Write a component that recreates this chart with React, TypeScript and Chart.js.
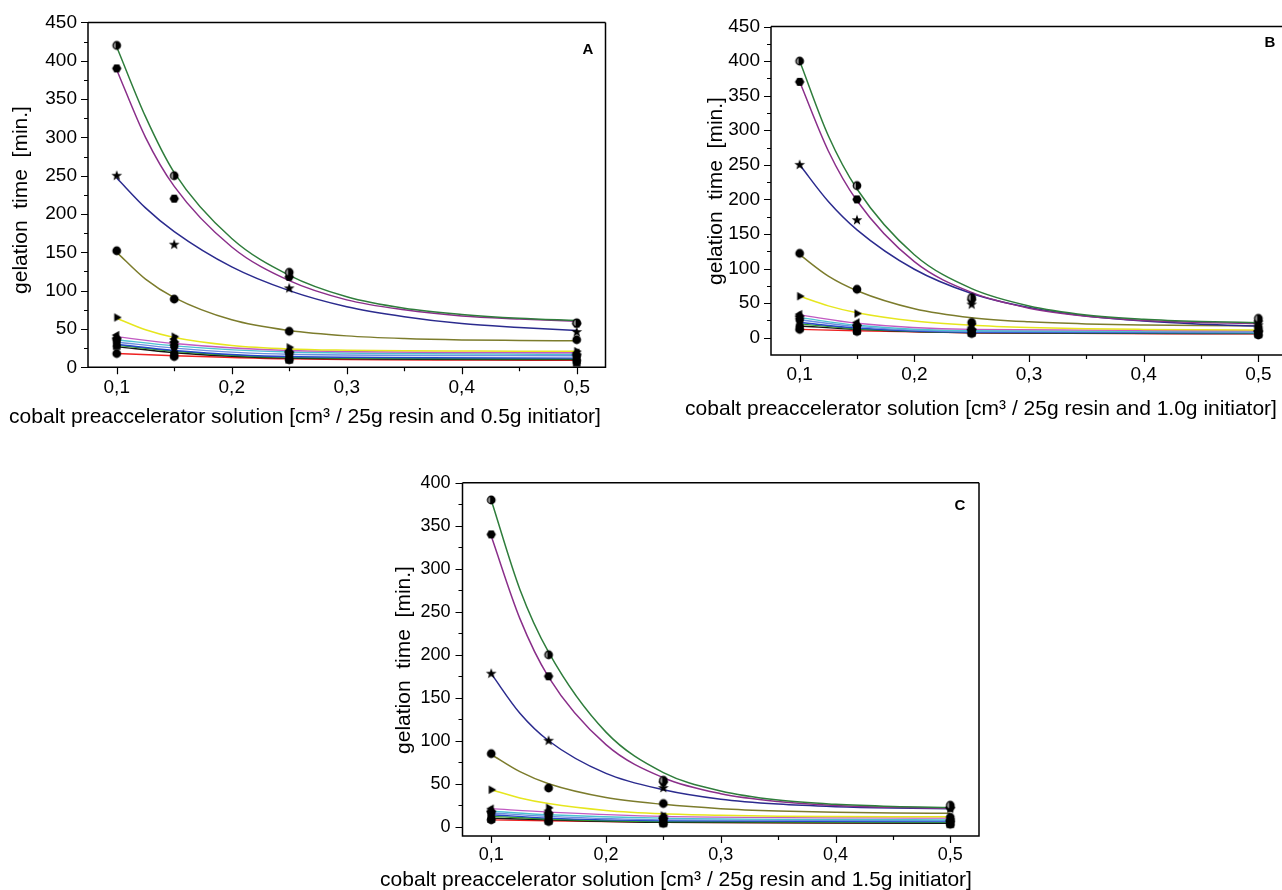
import React, { useEffect, useRef } from 'react';
import { Chart, registerables } from 'chart.js';

Chart.register(...registerables);

// ---------- shared axis data ----------
const X_POINTS = [0.1, 0.15, 0.25, 0.5];
const X_FINE = [0.1, 0.125, 0.15, 0.2, 0.25, 0.3, 0.35, 0.4, 0.45, 0.5];
const X_TICKS = [0.1, 0.2, 0.3, 0.4, 0.5];
const X_TICK_LABELS = ['0,1', '0,2', '0,3', '0,4', '0,5'];
const X_MINOR = [0.15, 0.25, 0.35, 0.45];
const Y_TICKS_AB = [0, 50, 100, 150, 200, 250, 300, 350, 400, 450];
const Y_MINOR_AB = [25, 75, 125, 175, 225, 275, 325, 375, 425];
const Y_TICKS_C = [0, 50, 100, 150, 200, 250, 300, 350, 400];
const Y_MINOR_C = [25, 75, 125, 175, 225, 275, 325, 375];

// series order: darkgreen, purple, navy, olive, yellow, magenta, cyan, royal, blue, green, black, red
const SERIES = ['s1', 's2', 's3', 's4', 's5', 's6', 's7', 's8', 's9', 's10', 's11', 's12'];

// ---------- panel A (0.5 g initiator) ----------
const A_POINTS = [
  [420, 250, 124, 58],
  [390, 220, 118, 57],
  [250, 160, 103, 46],
  [152, 89, 47, 36],
  [65, 40, 26, 21],
  [42, 37, 22, 19],
  [38, 33, 20, 17],
  [35, 28, 17, 14],
  [32, 24, 14, 11],
  [30, 20, 12, 8],
  [28, 17, 10, 6],
  [18, 14, 10, 9],
];
const A_CURVES_TOP = [
  [418, 327, 254, 168, 120, 92, 77, 69, 64, 61],
  [388, 300, 236, 157, 113, 88, 75, 67, 63, 60],
  [247, 208, 177, 131, 100, 79, 66, 57, 52, 48],
  [150, 115, 91, 62, 48, 41, 37.5, 35.7, 35, 34.5],
  [64, 49, 39, 28.6, 24, 22.3, 21.5, 21.2, 21, 21],
];
const A_CURVES_LOW = [
  [40, 31, 22, 19],
  [36, 28, 20, 17],
  [33, 25, 17, 15],
  [30, 22, 14, 12],
  [29, 21, 13, 11],
  [27, 19, 12, 10],
  [18, 15, 11, 9],
];

// ---------- panel B (1.0 g initiator) ----------
const B_POINTS = [
  [400, 220, 58, 28],
  [370, 200, 55, 24],
  [250, 170, 48, 18],
  [122, 70, 22, 15],
  [60, 35, 20, 12],
  [34, 22, 15, 10],
  [31, 18, 12, 9],
  [26, 16, 10, 8],
  [22, 14, 9, 7],
  [19, 11, 8, 6],
  [15, 10, 7, 5],
  [12, 9, 6, 4],
];
const B_CURVES_TOP = [
  [400, 292, 215, 120, 71, 46, 33, 26.8, 23.5, 21.7],
  [370, 270, 198, 110, 65.5, 42.7, 31, 25, 22, 20.6],
  [250, 197, 156, 99, 64, 43.6, 31.4, 24, 19.6, 17],
  [120, 89, 68, 42, 29, 23, 20, 18.5, 17.7, 17.4],
  [60, 46, 36, 24, 18, 14.7, 12.9, 12, 11.5, 11.3],
];
const B_CURVES_LOW = [
  [33, 21, 12, 10],
  [29, 18, 10, 9],
  [26, 16, 9, 8],
  [22, 14, 8, 7],
  [20, 13, 8, 6.5],
  [17, 12, 7, 6],
  [12, 10, 7, 5.5],
];

// ---------- panel C (1.5 g initiator) ----------
const C_POINTS = [
  [380, 200, 54, 25],
  [340, 175, 52, 22],
  [178, 100, 45, 21],
  [85, 45, 27, 11],
  [43, 22, 13, 9],
  [21, 19, 12, 8],
  [18, 16, 10, 6],
  [16, 13, 8, 6],
  [13, 10, 7, 5],
  [11, 8, 5, 4],
  [9, 7, 4, 3],
  [8, 6, 4, 3],
];
const C_CURVES_TOP = [
  [380, 276, 203, 110, 63, 41.6, 31, 26, 23.5, 22.3],
  [338, 242, 174, 95.5, 57, 38.4, 29.3, 24.8, 22.6, 21.6],
  [178, 132, 100, 62, 43, 32, 26.3, 23.3, 21.7, 20.9],
  [84, 64, 50, 34, 26, 21, 18.3, 16.8, 16, 15.6],
  [43, 33.5, 27, 19, 15, 13.2, 12.3, 11.9, 11.7, 11.6],
];
const C_CURVES_LOW = [
  [21, 17, 12, 10],
  [18, 14, 10, 8],
  [16, 12, 8, 7],
  [14, 10, 7, 6],
  [12, 9, 6, 5],
  [10, 8, 5, 4],
  [8, 7, 5, 4],
];

const X_TITLE_A = 'cobalt preaccelerator solution [cm³ / 25g resin and 0.5g initiator]';
const X_TITLE_B = 'cobalt preaccelerator solution [cm³ / 25g resin and 1.0g initiator]';
const X_TITLE_C = 'cobalt preaccelerator solution [cm³ / 25g resin and 1.5g initiator]';
const Y_TITLE = 'gelation  time  [min.]';

// ---------- styles ----------
const COLORS = ['#2f7d3c', '#8a2f8a', '#2b2b8e', '#7c7c2c', '#e6e61e', '#c25ac2', '#4cc2d2', '#6c8de0', '#2646c8', '#2ea02e', '#151515', '#ee2020'];
const MARKERS = ['sphere', 'hexagon', 'star', 'circle', 'triRight', 'triLeft', 'diamond', 'pentagon', 'triDown', 'triUp', 'square', 'circle'];
const FONT_FAMILY = '"Liberation Sans", Arial, Helvetica, sans-serif';

function makeMarker(kind: string): HTMLCanvasElement {
  const s = 12;
  const c = document.createElement('canvas');
  c.width = s;
  c.height = s;
  const g = c.getContext('2d') as CanvasRenderingContext2D;
  const m = s / 2;
  g.fillStyle = '#000';
  g.beginPath();
  const poly = (n: number, r: number, rot: number) => {
    for (let i = 0; i < n; i++) {
      const a = rot + (i * 2 * Math.PI) / n;
      const px = m + r * Math.cos(a);
      const py = m + r * Math.sin(a);
      if (i === 0) g.moveTo(px, py);
      else g.lineTo(px, py);
    }
    g.closePath();
  };
  switch (kind) {
    case 'square':
      g.rect(m - 3.8, m - 3.8, 7.6, 7.6);
      break;
    case 'triUp':
      poly(3, 5, -Math.PI / 2);
      break;
    case 'triDown':
      poly(3, 5, Math.PI / 2);
      break;
    case 'triLeft':
      poly(3, 5, Math.PI);
      break;
    case 'triRight':
      poly(3, 5, 0);
      break;
    case 'diamond':
      poly(4, 5, 0);
      break;
    case 'hexagon':
      poly(6, 4.7, 0);
      break;
    case 'pentagon':
      poly(5, 4.8, -Math.PI / 2);
      break;
    case 'star': {
      for (let i = 0; i < 10; i++) {
        const r = i % 2 === 0 ? 5.6 : 2.3;
        const a = -Math.PI / 2 + (i * Math.PI) / 5;
        const px = m + r * Math.cos(a);
        const py = m + r * Math.sin(a);
        if (i === 0) g.moveTo(px, py);
        else g.lineTo(px, py);
      }
      g.closePath();
      break;
    }
    default:
      g.arc(m, m, 4.4, 0, Math.PI * 2);
  }
  g.fill();
  if (kind === 'sphere') {
    g.fillStyle = '#8c8c8c';
    g.beginPath();
    g.arc(m, m, 3.2, Math.PI * 0.6, Math.PI * 1.4);
    g.closePath();
    g.fill();
  }
  return c;
}

type Spec = {
  left: number;
  top: number;
  width: number;
  height: number;
  padTop: number;
  padRight: number;
  yAxisWidth: number;
  xAxisHeight: number;
  yMin: number;
  yMax: number;
  yTicks: number[];
  yMinor: number[];
  points: number[][];
  curvesTop: number[][];
  curvesLow: number[][];
  tickSize: number;
  xPad: number;
  yPad: number;
  xTitle: string;
  xTitlePos: [number, number];
  yTitlePos: [number, number];
  letter: string;
  letterPos: [number, number];
  frameRight: boolean;
};

const decorPlugin = {
  id: 'panelDecor',
  afterDraw(chart: any, _args: any, opts: any) {
    const { ctx, chartArea: ca, scales } = chart;
    const x = scales.x;
    const y = scales.y;
    ctx.save();
    ctx.strokeStyle = '#000';
    ctx.lineWidth = 1.5;
    ctx.beginPath();
    ctx.moveTo(ca.left, ca.top);
    ctx.lineTo(ca.left, ca.bottom);
    ctx.lineTo(ca.right, ca.bottom);
    if (opts.frameRight) {
      ctx.lineTo(ca.right, ca.top);
    }
    ctx.moveTo(ca.left, ca.top);
    ctx.lineTo(opts.frameRight ? ca.right : chart.width, ca.top);
    ctx.stroke();
    ctx.lineWidth = 1.2;
    ctx.beginPath();
    for (const v of X_TICKS) {
      const px = Math.round(x.getPixelForValue(v)) + 0.5;
      ctx.moveTo(px, ca.bottom);
      ctx.lineTo(px, ca.bottom + 7);
    }
    for (const v of X_MINOR) {
      const px = Math.round(x.getPixelForValue(v)) + 0.5;
      ctx.moveTo(px, ca.bottom);
      ctx.lineTo(px, ca.bottom + 4);
    }
    for (const v of opts.yTicks) {
      const py = Math.round(y.getPixelForValue(v)) + 0.5;
      ctx.moveTo(ca.left, py);
      ctx.lineTo(ca.left - 7, py);
    }
    for (const v of opts.yMinor) {
      const py = Math.round(y.getPixelForValue(v)) + 0.5;
      ctx.moveTo(ca.left, py);
      ctx.lineTo(ca.left - 4, py);
    }
    ctx.stroke();
    ctx.fillStyle = '#000';
    ctx.font = '21px ' + FONT_FAMILY;
    ctx.textAlign = 'center';
    ctx.textBaseline = 'middle';
    ctx.fillText(opts.xTitle, opts.xTitlePos[0], opts.xTitlePos[1]);
    ctx.save();
    ctx.translate(opts.yTitlePos[0], opts.yTitlePos[1]);
    ctx.rotate(-Math.PI / 2);
    ctx.fillText(opts.yTitle, 0, 0);
    ctx.restore();
    ctx.font = 'bold 15px ' + FONT_FAMILY;
    ctx.fillText(opts.letter, opts.letterPos[0], opts.letterPos[1]);
    ctx.restore();
  },
};

function Panel({ spec }: { spec: Spec }) {
  const ref = useRef<HTMLCanvasElement | null>(null);
  useEffect(() => {
    if (!ref.current) return;
    const datasets: any[] = [];
    spec.points.forEach((vals, i) => {
      datasets.push({
        label: SERIES[i] + ' data',
        data: X_POINTS.map((xv, j) => ({ x: xv, y: vals[j] })),
        showLine: false,
        pointStyle: makeMarker(MARKERS[i]),
        pointRadius: 5,
        pointHoverRadius: 5,
        order: 0,
      });
    });
    spec.curvesTop.forEach((vals, i) => {
      datasets.push({
        label: SERIES[i] + ' fit',
        data: X_FINE.map((xv, j) => ({ x: xv, y: vals[j] })),
        showLine: true,
        borderColor: COLORS[i],
        borderWidth: 1.5,
        pointRadius: 0,
        cubicInterpolationMode: 'monotone',
        order: 1,
      });
    });
    spec.curvesLow.forEach((vals, k) => {
      const i = k + spec.curvesTop.length;
      datasets.push({
        label: SERIES[i] + ' fit',
        data: X_POINTS.map((xv, j) => ({ x: xv, y: vals[j] })),
        showLine: true,
        borderColor: COLORS[i],
        borderWidth: 1.4,
        pointRadius: 0,
        cubicInterpolationMode: 'monotone',
        order: 1,
      });
    });
    const tickFont = { family: FONT_FAMILY, size: spec.tickSize };
    const chart = new Chart(ref.current, {
      type: 'scatter',
      data: { datasets },
      plugins: [decorPlugin as any],
      options: {
        animation: false,
        responsive: false,
        events: [],
        layout: {
          autoPadding: false,
          padding: { left: 0, top: spec.padTop, right: spec.padRight, bottom: 0 },
        },
        plugins: {
          legend: { display: false },
          tooltip: { enabled: false },
          panelDecor: {
            yTicks: spec.yTicks,
            yMinor: spec.yMinor,
            xTitle: spec.xTitle,
            yTitle: Y_TITLE,
            xTitlePos: spec.xTitlePos,
            yTitlePos: spec.yTitlePos,
            letter: spec.letter,
            letterPos: spec.letterPos,
            frameRight: spec.frameRight,
          },
        } as any,
        scales: {
          x: {
            type: 'linear',
            min: 0.075,
            max: 0.525,
            grid: { display: false, drawTicks: false },
            border: { display: false },
            afterBuildTicks: (s: any) => {
              s.ticks = X_TICKS.map((v) => ({ value: v }));
            },
            afterFit: (s: any) => {
              s.height = spec.xAxisHeight;
            },
            ticks: {
              autoSkip: false,
              maxRotation: 0,
              padding: spec.xPad,
              color: '#000',
              font: tickFont,
              callback: (_v: any, idx: number) => X_TICK_LABELS[idx],
            },
          },
          y: {
            type: 'linear',
            min: spec.yMin,
            max: spec.yMax,
            grid: { display: false, drawTicks: false },
            border: { display: false },
            afterBuildTicks: (s: any) => {
              s.ticks = spec.yTicks.map((v) => ({ value: v }));
            },
            afterFit: (s: any) => {
              s.width = spec.yAxisWidth;
            },
            ticks: {
              autoSkip: false,
              padding: spec.yPad,
              color: '#000',
              font: tickFont,
              callback: (v: any) => String(v),
            },
          },
        },
      } as any,
    });
    return () => chart.destroy();
  }, [spec]);
  return (
    <canvas
      ref={ref}
      width={spec.width}
      height={spec.height}
      style={{ position: 'absolute', left: spec.left, top: spec.top, width: spec.width, height: spec.height }}
    />
  );
}

const SPEC_A: Spec = {
  left: 0, top: 0, width: 640, height: 440, padTop: 20.6, padRight: 34.5, yAxisWidth: 88, xAxisHeight: 72.7,
  yMin: 0, yMax: 450, yTicks: Y_TICKS_AB, yMinor: Y_MINOR_AB,
  points: A_POINTS, curvesTop: A_CURVES_TOP, curvesLow: A_CURVES_LOW,
  tickSize: 19, xPad: 9, yPad: 11,
  xTitle: X_TITLE_A, xTitlePos: [305, 417], yTitlePos: [21, 200], letter: 'A', letterPos: [588, 50], frameRight: true,
};
const SPEC_B: Spec = {
  left: 650, top: 0, width: 660, height: 440, padTop: 26.5, padRight: 23, yAxisWidth: 121, xAxisHeight: 85,
  yMin: -25, yMax: 450, yTicks: Y_TICKS_AB, yMinor: Y_MINOR_AB,
  points: B_POINTS, curvesTop: B_CURVES_TOP, curvesLow: B_CURVES_LOW,
  tickSize: 19, xPad: 8, yPad: 11,
  xTitle: X_TITLE_B, xTitlePos: [331, 409], yTitlePos: [66, 191], letter: 'B', letterPos: [620, 43], frameRight: false,
};
const SPEC_C: Spec = {
  left: 340, top: 460, width: 680, height: 430, padTop: 22.7, padRight: 41, yAxisWidth: 122.5, xAxisHeight: 54,
  yMin: -10.8, yMax: 400, yTicks: Y_TICKS_C, yMinor: Y_MINOR_C,
  points: C_POINTS, curvesTop: C_CURVES_TOP, curvesLow: C_CURVES_LOW,
  tickSize: 18, xPad: 8, yPad: 12,
  xTitle: X_TITLE_C, xTitlePos: [336, 420], yTitlePos: [64, 200], letter: 'C', letterPos: [620, 46], frameRight: true,
};

export default function App() {
  return (
    <div
      style={{
        position: 'fixed',
        left: 0,
        top: 0,
        width: 1282,
        height: 890,
        overflow: 'hidden',
        background: '#fff',
      }}
    >
      <Panel spec={SPEC_A} />
      <Panel spec={SPEC_B} />
      <Panel spec={SPEC_C} />
    </div>
  );
}
